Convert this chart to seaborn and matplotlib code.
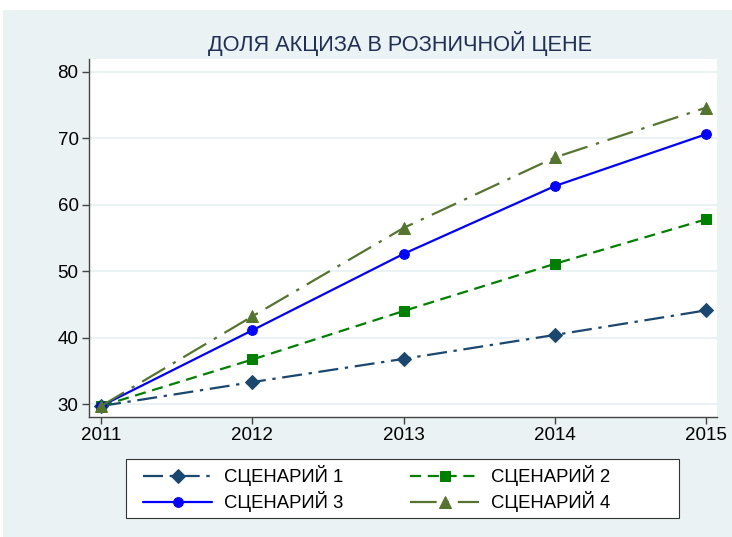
import numpy as np
import pandas as pd
import matplotlib
matplotlib.use("Agg")
import matplotlib.pyplot as plt
import matplotlib.patches as mpatches
import seaborn as sns

# Data
years = [2011, 2012, 2013, 2014, 2015]
scenario_1 = [29.7, 33.3, 36.8, 40.4, 44.1]
scenario_2 = [29.7, 36.7, 44.0, 51.1, 57.8]
scenario_3 = [29.7, 41.1, 52.6, 62.8, 70.6]
scenario_4 = [29.7, 43.2, 56.5, 67.1, 74.6]
labels = ["СЦЕНАРИЙ 1", "СЦЕНАРИЙ 2", "СЦЕНАРИЙ 3", "СЦЕНАРИЙ 4"]
yticks = [30, 40, 50, 60, 70, 80]

sns.set_theme(style="white")
plt.rcParams['font.family'] = ['Liberation Sans', 'DejaVu Sans']

W, H = 732, 537
bg = "#eaf2f3"
fig = plt.figure(figsize=(W / 100, H / 100), dpi=100, facecolor="white")
# light outer panel, leaving a thin white strip at top and left like the original
fig.patches.append(mpatches.Rectangle((3 / W, 0), 1, 1 - 10 / H, transform=fig.transFigure,
                                      facecolor=bg, edgecolor="none", zorder=-10))

ax = fig.add_axes([89 / W, 1 - 417 / H, (717 - 89) / W, (417 - 59) / H])
ax.set_facecolor("white")

styles = [
    (scenario_1, "#1a476f", "D", (0, (9, 3, 1.5, 3)), 7),
    (scenario_2, "#008000", "s", (0, (5, 3)), 7),
    (scenario_3, "#0000ff", "o", "-", 7),
    (scenario_4, "#55752f", "^", (0, (12, 4, 1.5, 4)), 8),
]
for (vals, col, mk, ls, ms), lab in zip(styles, labels):
    sns.lineplot(x=years, y=vals, ax=ax, color=col, marker=mk, markersize=ms,
                 markeredgecolor=col, linestyle=ls, linewidth=1.6, label=lab)

ax.set_xlim(2010.92, 2015.07)
ax.set_ylim(28.05, 81.9)
ax.set_xticks(years)
ax.set_yticks(yticks)
ax.set_xticklabels([str(y) for y in years])
ax.yaxis.grid(True, color=bg, linewidth=1.5)
ax.set_axisbelow(True)
ax.set_xlabel("")
ax.set_ylabel("")

for side in ["top", "right"]:
    ax.spines[side].set_visible(False)
for side in ["left", "bottom"]:
    ax.spines[side].set_color("#444444")
    ax.spines[side].set_linewidth(1.0)
ax.tick_params(axis="both", direction="out", length=5, width=1, color="#444444",
               labelsize=13.5, labelcolor="black", pad=2.5)
ax.tick_params(axis="x", bottom=True)
ax.tick_params(axis="y", left=True)

fig.text(400.5 / W, 1 - 44 / H, "ДОЛЯ АКЦИЗА В РОЗНИЧНОЙ ЦЕНЕ",
         ha="center", va="center", fontsize=15.7, color="#1f2f55")

# legend: separate box, entries filled row by row
fig.patches.append(mpatches.Rectangle((126 / W, 1 - 518 / H), (679 - 126) / W, (518 - 459) / H,
                                      transform=fig.transFigure, facecolor="white",
                                      edgecolor="#333333", linewidth=0.8, zorder=1))
handles, labs = ax.get_legend_handles_labels()
ax.legend_.remove()
order = [0, 2, 1, 3]
leg = fig.legend([handles[i] for i in order], [labs[i] for i in order], ncol=2,
                 loc="upper left", bbox_to_anchor=(143 / W, 1 - 465 / H),
                 fontsize=13.3, frameon=False, borderpad=0, borderaxespad=0,
                 handlelength=3.75, handletextpad=0.65,
                 labelspacing=0.27, columnspacing=3.6)
for t in leg.get_texts():
    t.set_color("black")

fig.savefig("out.png", dpi=100, facecolor=fig.get_facecolor())
